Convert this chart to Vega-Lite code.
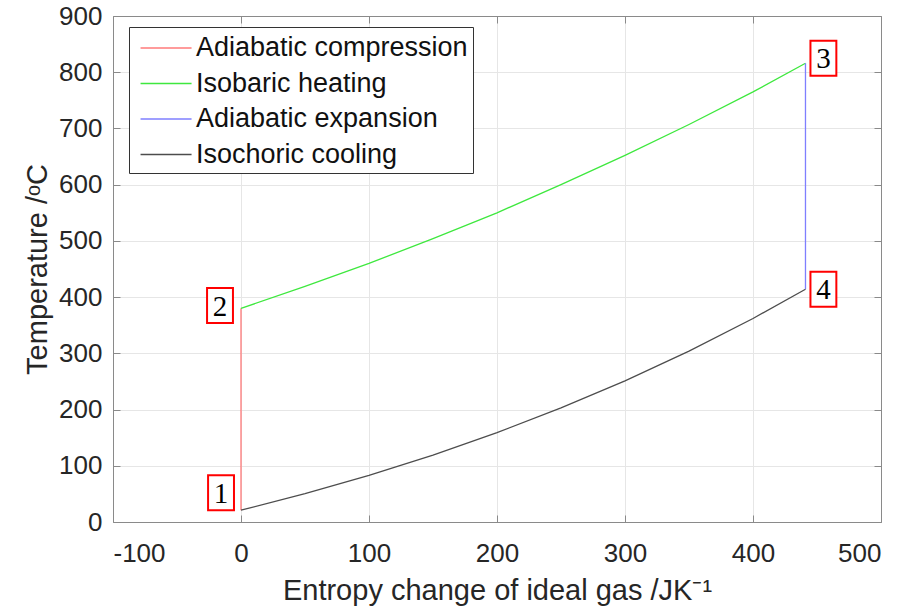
{
  "$schema": "https://vega.github.io/schema/vega-lite/v6.json",
  "width": 768,
  "height": 506,
  "autosize": {"type": "none"},
  "padding": {"left": 113, "top": 16, "right": 20, "bottom": 89},
  "background": "white",
  "config": {
    "view": {"stroke": null},
    "font": "Liberation Sans",
    "axis": {
      "domainColor": "#8a8a8a",
      "tickColor": "#8a8a8a",
      "gridColor": "#e6e6e6",
      "labelColor": "#262626",
      "titleColor": "#262626",
      "labelFont": "Liberation Sans",
      "titleFont": "Liberation Sans",
      "labelFontSize": 26,
      "titleFontSize": 29,
      "titleFontWeight": "normal"
    }
  },
  "datasets": {
    "cycle": [
      {"series": "Adiabatic compression", "order": 1, "s": 0, "T": 21},
      {"series": "Adiabatic compression", "order": 2, "s": 0, "T": 380},
      {"series": "Isobaric heating", "order": 1, "s": 0, "T": 380},
      {"series": "Isobaric heating", "order": 2, "s": 50, "T": 419},
      {"series": "Isobaric heating", "order": 3, "s": 100, "T": 460},
      {"series": "Isobaric heating", "order": 4, "s": 150, "T": 504},
      {"series": "Isobaric heating", "order": 5, "s": 200, "T": 550},
      {"series": "Isobaric heating", "order": 6, "s": 250, "T": 600},
      {"series": "Isobaric heating", "order": 7, "s": 300, "T": 652},
      {"series": "Isobaric heating", "order": 8, "s": 350, "T": 707},
      {"series": "Isobaric heating", "order": 9, "s": 400, "T": 765},
      {"series": "Isobaric heating", "order": 10, "s": 441, "T": 816},
      {"series": "Adiabatic expansion", "order": 1, "s": 441, "T": 816},
      {"series": "Adiabatic expansion", "order": 2, "s": 441, "T": 414},
      {"series": "Isochoric cooling", "order": 1, "s": 441, "T": 414},
      {"series": "Isochoric cooling", "order": 2, "s": 400, "T": 362},
      {"series": "Isochoric cooling", "order": 3, "s": 350, "T": 304},
      {"series": "Isochoric cooling", "order": 4, "s": 300, "T": 251},
      {"series": "Isochoric cooling", "order": 5, "s": 250, "T": 203},
      {"series": "Isochoric cooling", "order": 6, "s": 200, "T": 159},
      {"series": "Isochoric cooling", "order": 7, "s": 150, "T": 119},
      {"series": "Isochoric cooling", "order": 8, "s": 100, "T": 83},
      {"series": "Isochoric cooling", "order": 9, "s": 50, "T": 50.5},
      {"series": "Isochoric cooling", "order": 10, "s": 0, "T": 21}
    ],
    "states": [
      {"label": "1", "s": -15.6, "T": 52},
      {"label": "2", "s": -16.4, "T": 385},
      {"label": "3", "s": 455, "T": 825},
      {"label": "4", "s": 455, "T": 414}
    ]
  },
  "resolve": {"axis": {"x": "independent", "y": "independent"}},
  "layer": [
    {
      "data": {"name": "cycle"},
      "mark": {"type": "line", "strokeWidth": 1.3, "clip": true},
      "encoding": {
        "x": {
          "field": "s", "type": "quantitative",
          "scale": {"domain": [-100, 500], "nice": false, "zero": false},
          "axis": {
            "values": [-100, 0, 100, 200, 300, 400, 500],
            "labelExpr": "'' + datum.value",
            "tickSize": -7, "labelPadding": 25, "grid": true,
            "title": "Entropy change of ideal gas /JK⁻¹",
            "titleY": 77, "titleBaseline": "alphabetic"
          }
        },
        "y": {
          "field": "T", "type": "quantitative",
          "scale": {"domain": [0, 900], "nice": false},
          "axis": {
            "values": [0, 100, 200, 300, 400, 500, 600, 700, 800, 900],
            "tickSize": -7, "labelPadding": 18, "grid": true,
            "title": "Temperature /ᵒC",
            "titleX": -67, "titleBaseline": "alphabetic"
          }
        },
        "color": {
          "field": "series", "type": "nominal",
          "scale": {
            "domain": ["Adiabatic compression", "Isobaric heating", "Adiabatic expansion", "Isochoric cooling"],
            "range": ["#ff7a7a", "#3ee83e", "#7f7fff", "#4d4d4d"]
          },
          "legend": {
            "title": null,
            "orient": "none",
            "legendX": 16,
            "legendY": 11,
            "padding": 5,
            "rowPadding": 6.5,
            "labelFontSize": 27,
            "labelFont": "Liberation Sans",
            "labelColor": "#111111",
            "labelLimit": 1000,
            "labelOffset": 30,
            "symbolType": "M-0.63,0L2.77,0",
            "symbolSize": 900,
            "symbolStrokeWidth": 1.3,
            "strokeColor": "#333333",
            "fillColor": "white",
            "cornerRadius": 0
          }
        },
        "order": {"field": "order", "type": "quantitative"}
      }
    },
    {
      "data": {"name": "states"},
      "mark": {"type": "point", "shape": "M-0.74,-1L0.74,-1L0.74,1L-0.74,1Z", "size": 1225, "filled": false, "fill": "white", "stroke": "#ff0000", "strokeWidth": 2, "opacity": 1},
      "encoding": {
        "x": {
          "field": "s", "type": "quantitative",
          "axis": {"orient": "top", "values": [-100, 0, 100, 200, 300, 400, 500], "tickSize": -7, "labels": false, "title": null, "grid": false}
        },
        "y": {
          "field": "T", "type": "quantitative",
          "axis": {"orient": "right", "values": [0, 100, 200, 300, 400, 500, 600, 700, 800, 900], "tickSize": -7, "labels": false, "title": null, "grid": false}
        }
      }
    },
    {
      "data": {"name": "states"},
      "mark": {"type": "text", "font": "Liberation Serif", "fontSize": 29, "color": "#000000", "baseline": "middle", "align": "center", "dy": 1},
      "encoding": {
        "x": {"field": "s", "type": "quantitative", "axis": null},
        "y": {"field": "T", "type": "quantitative", "axis": null},
        "text": {"field": "label"}
      }
    }
  ]
}
